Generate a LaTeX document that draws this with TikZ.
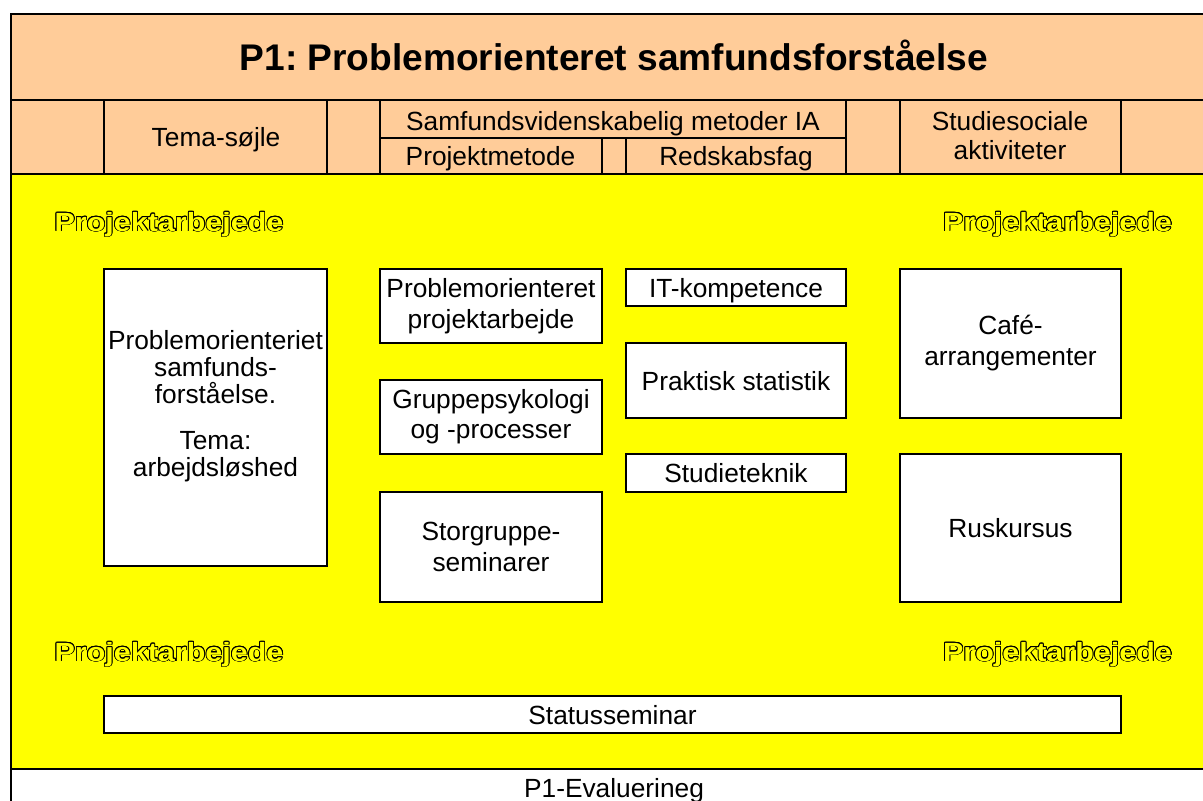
\documentclass[tikz,border=0pt]{standalone}
\usepackage{fontspec}
\setmainfont{Liberation Sans}
\newfontfamily\pafont{Liberation Sans}[FakeStretch=1.16]
\usepackage{contour}
\contourlength{0.8pt}
\definecolor{peach}{HTML}{FFCC99}
\definecolor{xlyellow}{HTML}{FFFF00}
\newcommand{\bodyfnt}{\fontsize{26.3}{31}\selectfont}
\frenchspacing
\begin{document}
\begin{tikzpicture}[x=1pt,y=-1pt,
  box/.style={draw=black, line width=1.6pt, fill=white, align=center, inner sep=0pt, font=\bodyfnt},
  onebox/.style={box, text height=19.2pt, text depth=0pt},
  txt/.style={inner sep=0pt, align=center, font=\bodyfnt},
  pa/.style={inner sep=0pt, anchor=base, font={\pafont\bfseries\fontsize{26.3}{31}\selectfont}},
  frame/.style={line width=2pt},
  hline/.style={line width=1.1pt}]
\useasboundingbox (0,0) rectangle (1203,801);
\fill[white] (0,0) rectangle (1203,801);
\fill[peach] (11,14) rectangle (1203,174);
\fill[xlyellow] (11,174) rectangle (1203,769);
% frame and header lines
\draw[frame] (1203,14) -- (11,14) -- (11,801);
\draw[hline] (11,100) -- (1203,100);
\draw[hline] (11,174) -- (1203,174);
\draw[frame] (11,769) -- (1203,769);
\foreach \xx in {104,327,380,846,900,1121} \draw[hline] (\xx,100) -- (\xx,174);
\draw[hline] (380,138) -- (846,138);
\draw[hline] (602,138) -- (602,174);
\draw[hline] (626,138) -- (626,174);
% header texts
\node[inner sep=0pt, anchor=base, font=\bfseries\fontsize{37.1}{40}\selectfont] (title) at (614,70) {P1: Problemorienteret samfundsforståelse};
\node[txt, anchor=base] (h1) at (216,146.7) {Tema-søjle};
\node[txt, anchor=base] (h2) at (613,130) {Samfundsvidenskabelig metoder IA};
\node[txt, anchor=base] (h3) at (490.5,165) {Projektmetode};
\node[txt, anchor=base] (h4) at (736,165) {Redskabsfag};
\node[txt, font=\fontsize{26.3}{29.3}\selectfont] (h5) at (1010,135.7) {Studiesociale\\aktiviteter};
% Projektarbejede labels
\node[pa] (pa1) at (169,231) {\contour{black}{\textcolor{xlyellow}{Projektarbejede}}};
\node[pa] (pa2) at (1057.5,231) {\contour{black}{\textcolor{xlyellow}{Projektarbejede}}};
\node[pa] (pa3) at (169,661) {\contour{black}{\textcolor{xlyellow}{Projektarbejede}}};
\node[pa] (pa4) at (1057.5,661) {\contour{black}{\textcolor{xlyellow}{Projektarbejede}}};
% boxes
\node[box, minimum width=223, minimum height=297] (tema) at (215.5,417.5) {};
\node[txt, font=\fontsize{26.3}{27}\selectfont] (tematxt) at (215.5,405.7) {Problemorienteriet\\samfunds-\\forståelse.\\[19pt]Tema:\\arbejdsløshed};
\node[box, minimum width=222, minimum height=74] (prob) at (491,306) {Problemorienteret\\projektarbejde};
\node[box, minimum width=222, minimum height=74, font=\fontsize{26.3}{30}\selectfont] (grp) at (491,417) {Gruppepsykologi\\og -processer};
\node[box, minimum width=222, minimum height=110, font=\fontsize{26.3}{30.7}\selectfont] (stor) at (491,547) {Storgruppe-\\seminarer};
\node[onebox, minimum width=220, minimum height=37] (it) at (736,287.5) {IT-kompetence};
\node[onebox, minimum width=220, minimum height=75] (prak) at (736,380.5) {Praktisk statistik};
\node[onebox, minimum width=220, minimum height=38] (stud) at (736,473) {Studieteknik};
\node[box, minimum width=221, minimum height=149] (cafe) at (1010.5,343.5) {Café-\\arrangementer};
\node[onebox, minimum width=221, minimum height=148] (rus) at (1010.5,528) {Ruskursus};
\node[onebox, minimum width=1017, minimum height=37] (status) at (612.5,714.5) {Statusseminar};
% bottom row
\node[txt, anchor=base] (eval) at (614,797) {P1-Evaluerineg};
\end{tikzpicture}
\end{document}
